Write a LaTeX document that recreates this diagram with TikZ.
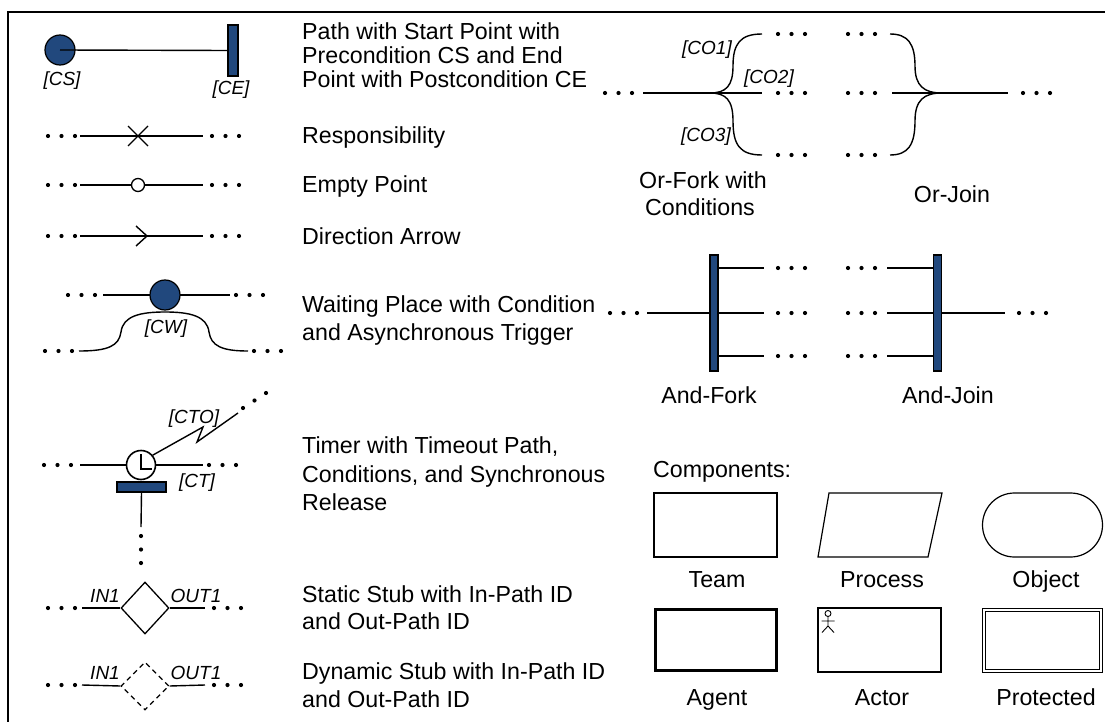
\documentclass[tikz,border=0pt]{standalone}
\usepackage{fontspec}
\setmainfont{Liberation Sans}
\usetikzlibrary{shapes.geometric}
\definecolor{ucmblue}{RGB}{33,72,125}
\begin{document}
\begin{tikzpicture}[x=1pt,y=-1pt,
  upath/.style={line width=1.4pt},
  txt/.style={font=\fontsize{23.2}{28}\selectfont, anchor=base west, inner sep=0pt},
  ctxt/.style={font=\fontsize{23.2}{28}\selectfont, anchor=base, inner sep=0pt},
  lbl/.style={font=\fontsize{19}{22}\selectfont\itshape, anchor=base, inner sep=0pt},
  startpt/.style={circle, draw, line width=1.2pt, fill=ucmblue, minimum size=30pt, inner sep=0pt},
  bluebar/.style={rectangle, draw, line width=1.2pt, fill=ucmblue, inner sep=0pt},
  stubbox/.style={diamond, draw, line width=1.3pt, fill=white, inner sep=0pt, minimum width=48pt},
  comp/.style={rectangle, draw, line width=1.2pt, inner sep=0pt, minimum width=123pt, minimum height=64pt},
  tridots/.pic={\foreach \i in {0,1,2} \fill (\i*13.5,0) circle (2.1pt);},
  vdots3/.pic={\foreach \i in {0,1,2} \fill (0,\i*13.5) circle (2.1pt);},
]
\useasboundingbox (0,0) rectangle (1105,722);
\fill[white] (0,0) rectangle (1105,722);

% frame
\draw[line width=2.4pt] (8,722) -- (8,12) -- (1105,12);

% ---- start point and end point
\node[startpt] (cs) at (60,50) {};
\node[bluebar, minimum width=10pt, minimum height=51pt] (ce) at (233,50.5) {};
\draw[upath] (cs.center) -- (ce.west);
\node[lbl] (lcs) at (62,86) {[CS]};
\node[lbl] (lce) at (231,95) {[CE]};

% ---- responsibility
\pic at (48,136) {tridots};
\coordinate (ra) at (80,136); \coordinate (rb) at (203,136);
\draw[upath] (ra) -- (rb);
\coordinate (rx) at (138,136);
\draw[line width=1.4pt] ([shift={(-10,-10)}]rx) -- ([shift={(10,10)}]rx)
  ([shift={(-10,10)}]rx) -- ([shift={(10,-10)}]rx);
\pic at (212,136) {tridots};

% ---- empty point
\pic at (48,185) {tridots};
\coordinate (ea) at (80,185); \coordinate (eb) at (203,185);
\draw[upath] (ea) -- (eb);
\node[circle, draw, line width=1.3pt, fill=white, minimum size=13pt, inner sep=0pt] (ep) at (138,185) {};
\pic at (212,185) {tridots};

% ---- direction arrow
\pic at (48,236) {tridots};
\coordinate (da) at (80,236); \coordinate (db) at (203,236);
\draw[upath] (da) -- (db);
\coordinate (dtip) at (147,236);
\draw[line width=1.4pt] ([shift={(-11,-10)}]dtip) -- (dtip) -- ([shift={(-11,10)}]dtip);
\pic at (212,236) {tridots};

% ---- waiting place
\pic at (68,295) {tridots};
\coordinate (wa) at (103,295); \coordinate (wb) at (230,295);
\draw[upath] (wa) -- (wb);
\node[startpt] (wp) at (165,295) {};
\pic at (236,295) {tridots};
\pic at (45,351) {tridots};
\coordinate (ta) at (79,351); \coordinate (tb) at (248,351);
\draw[upath] (ta) .. controls (108,351) and (119,346) .. (121,332)
  .. controls (123,316) and (140,312) .. (165,312)
  .. controls (190,312) and (207,316) .. (209,332)
  .. controls (211,346) and (222,351) .. (tb);
\node[lbl] (lcw) at (166,333) {[CW]};
\pic at (254,351) {tridots};

% ---- timer
\pic at (44,465) {tridots};
\coordinate (tma) at (80,465); \coordinate (tmb) at (203,465);
\draw[upath] (tma) -- (tmb);
\node[circle, draw, line width=1.6pt, fill=white, minimum size=29pt, inner sep=0pt] (clock) at (141,465) {};
\draw[line width=1.8pt] (141,454) -- (141,469) -- (152,469);
\pic at (209,465) {tridots};
\node[bluebar, minimum width=49pt, minimum height=10pt] (rel) at (141.5,487) {};
\coordinate (relend) at (141,527);
\draw[upath] (rel.south) -- (relend);
\pic at (141,536) {vdots3};
\coordinate (to1) at (203,427); \coordinate (to2) at (197,442); \coordinate (to3) at (238,413);
\draw[upath] (clock.40) -- (to1) -- (to2) -- (to3);
\fill (243,408) circle (2.1pt) (254.5,400.5) circle (2.1pt) (266,393) circle (2.1pt);
\node[lbl] (lcto) at (194,423) {[CTO]};
\node[lbl] (lct) at (197,487) {[CT]};

% ---- static stub
\pic at (48,608) {tridots};
\node[stubbox, minimum height=52pt] (ss) at (145,608) {};
\coordinate (ssa) at (82,608); \coordinate (ssb) at (205,608);
\draw[upath] (ssa) -- (ss.west) (ss.east) -- (ssb);
\pic at (214,608) {tridots};
\node[lbl] (lin1) at (105,602) {IN1};
\node[lbl] (lout1) at (196,602) {OUT1};

% ---- dynamic stub
\pic at (48,685) {tridots};
\node[stubbox, minimum height=48pt, dash pattern=on 5pt off 4pt] (ds) at (145,686) {};
\coordinate (dsa) at (82,685); \coordinate (dsb) at (205,685);
\draw[upath] (dsa) -- (ds.west) (ds.east) -- (dsb);
\pic at (214,685) {tridots};
\node[lbl] (lin2) at (105,679) {IN1};
\node[lbl] (lout2) at (196,679) {OUT1};

% ---- legend texts
\node[txt] (t1) at (302,40) {Path with Start Point with};
\node[txt] (t2) at (302,64) {Precondition CS and End};
\node[txt] (t3) at (302,88) {Point with Postcondition CE};
\node[txt] (t4) at (302,144) {Responsibility};
\node[txt] (t5) at (302,193) {Empty Point};
\node[txt] (t6) at (302,244) {Direction Arrow};
\node[txt] (t7) at (302,312) {Waiting Place with Condition};
\node[txt] (t8) at (302,340) {and Asynchronous Trigger};
\node[txt] (t9) at (302,453) {Timer with Timeout Path,};
\node[txt] (t10) at (302,482) {Conditions, and Synchronous};
\node[txt] (t11) at (302,510) {Release};
\node[txt] (t12) at (302,602) {Static Stub with In-Path ID};
\node[txt] (t13) at (302,629) {and Out-Path ID};
\node[txt] (t14) at (302,679) {Dynamic Stub with In-Path ID};
\node[txt] (t15) at (302,707) {and Out-Path ID};

% ---- or-fork
\pic at (605,93) {tridots};
\coordinate (of) at (710,93);
\coordinate (ofin) at (643,93);
\coordinate (of1) at (762,34); \coordinate (of2) at (762,93); \coordinate (of3) at (762,155);
\draw[upath] (ofin) -- (of) -- (of2);
\draw[upath] (of) .. controls (726,93) and (733,86) .. (733,66) .. controls (733,44) and (740,34) .. (of1);
\draw[upath] (of) .. controls (726,93) and (733,100) .. (733,121) .. controls (733,145) and (740,155) .. (of3);
\pic at (778,34) {tridots};
\pic at (778,93) {tridots};
\pic at (778,155) {tridots};
\node[lbl] (lco1) at (707,55) {[CO1]};
\node[lbl] (lco2) at (769,84) {[CO2]};
\node[lbl] (lco3) at (706,142) {[CO3]};
\node[ctxt] (tof1) at (703,189) {Or-Fork with};
\node[ctxt] (tof2) at (700,215) {Conditions};

% ---- or-join
\pic at (848,34) {tridots};
\pic at (848,93) {tridots};
\pic at (848,155) {tridots};
\coordinate (oj) at (942,93);
\coordinate (oj1) at (890,34); \coordinate (oj2) at (892,93); \coordinate (oj3) at (890,155);
\coordinate (ojout) at (1008,93);
\draw[upath] (oj2) -- (ojout);
\draw[upath] (oj1) .. controls (908,34) and (915,44) .. (915,66) .. controls (915,86) and (924,93) .. (oj);
\draw[upath] (oj3) .. controls (908,155) and (915,145) .. (915,121) .. controls (915,100) and (924,93) .. (oj);
\pic at (1023,93) {tridots};
\node[ctxt] (toj) at (952,203) {Or-Join};

% ---- and-fork
\pic at (610,313) {tridots};
\node[bluebar, minimum width=8pt, minimum height=116pt] (af) at (714,313) {};
\coordinate (afin) at (647,313);
\draw[upath] (afin) -- (af.west);
\coordinate (af1) at (764,268); \coordinate (af2) at (764,313); \coordinate (af3) at (764,356);
\draw[upath] (af.east |- af1) -- (af1);
\draw[upath] (af.east) -- (af2);
\draw[upath] (af.east |- af3) -- (af3);
\pic at (778,268) {tridots};
\pic at (778,313) {tridots};
\pic at (778,356) {tridots};
\node[ctxt] (taf) at (709,403) {And-Fork};

% ---- and-join
\pic at (848,268) {tridots};
\pic at (848,313) {tridots};
\pic at (848,356) {tridots};
\node[bluebar, minimum width=8pt, minimum height=116pt] (aj) at (937.5,313) {};
\coordinate (aj1) at (887,268); \coordinate (aj2) at (887,313); \coordinate (aj3) at (887,356);
\coordinate (ajout) at (1005,313);
\draw[upath] (aj1) -- (aj.west |- aj1);
\draw[upath] (aj2) -- (aj.west);
\draw[upath] (aj3) -- (aj.west |- aj3);
\draw[upath] (aj.east) -- (ajout);
\pic at (1019,313) {tridots};
\node[ctxt] (taj) at (948,403) {And-Join};

% ---- components
\node[txt] (tcomp) at (653,477) {Components:};
\node[comp] (team) at (715.5,525) {};
\draw[line width=1.2pt] (829,493) -- (942,493) -- (928,557) -- (818,557) -- cycle;
\node[comp, rounded corners=32pt, minimum width=120pt] (object) at (1042.5,525) {};
\node[ctxt] (tteam) at (717,587) {Team};
\node[ctxt] (tproc) at (882,587) {Process};
\node[ctxt] (tobj) at (1046,587) {Object};

\node[comp, line width=3pt, minimum width=121pt, minimum height=61pt] (agent) at (716,640) {};
\node[comp] (actor) at (879.5,640) {};
% stick figure in the actor box
\draw[line width=0.9pt] (828,613.5) circle (3pt);
\draw[line width=0.9pt] (828,616.5) -- (828,626) (821.5,621) -- (834.5,621)
  (822,632.5) -- (828,626) -- (834,632.5);
% protected: two nested outlines
\node[comp, line width=1pt, minimum width=120pt, minimum height=64pt] (prot) at (1042.5,640) {};
\node[comp, line width=1pt, minimum width=114pt, minimum height=58pt] (protin) at (prot.center) {};
\node[ctxt] (tagent) at (717,705) {Agent};
\node[ctxt] (tactor) at (882,705) {Actor};
\node[ctxt] (tprot) at (1046,705) {Protected};
\end{tikzpicture}
\end{document}
